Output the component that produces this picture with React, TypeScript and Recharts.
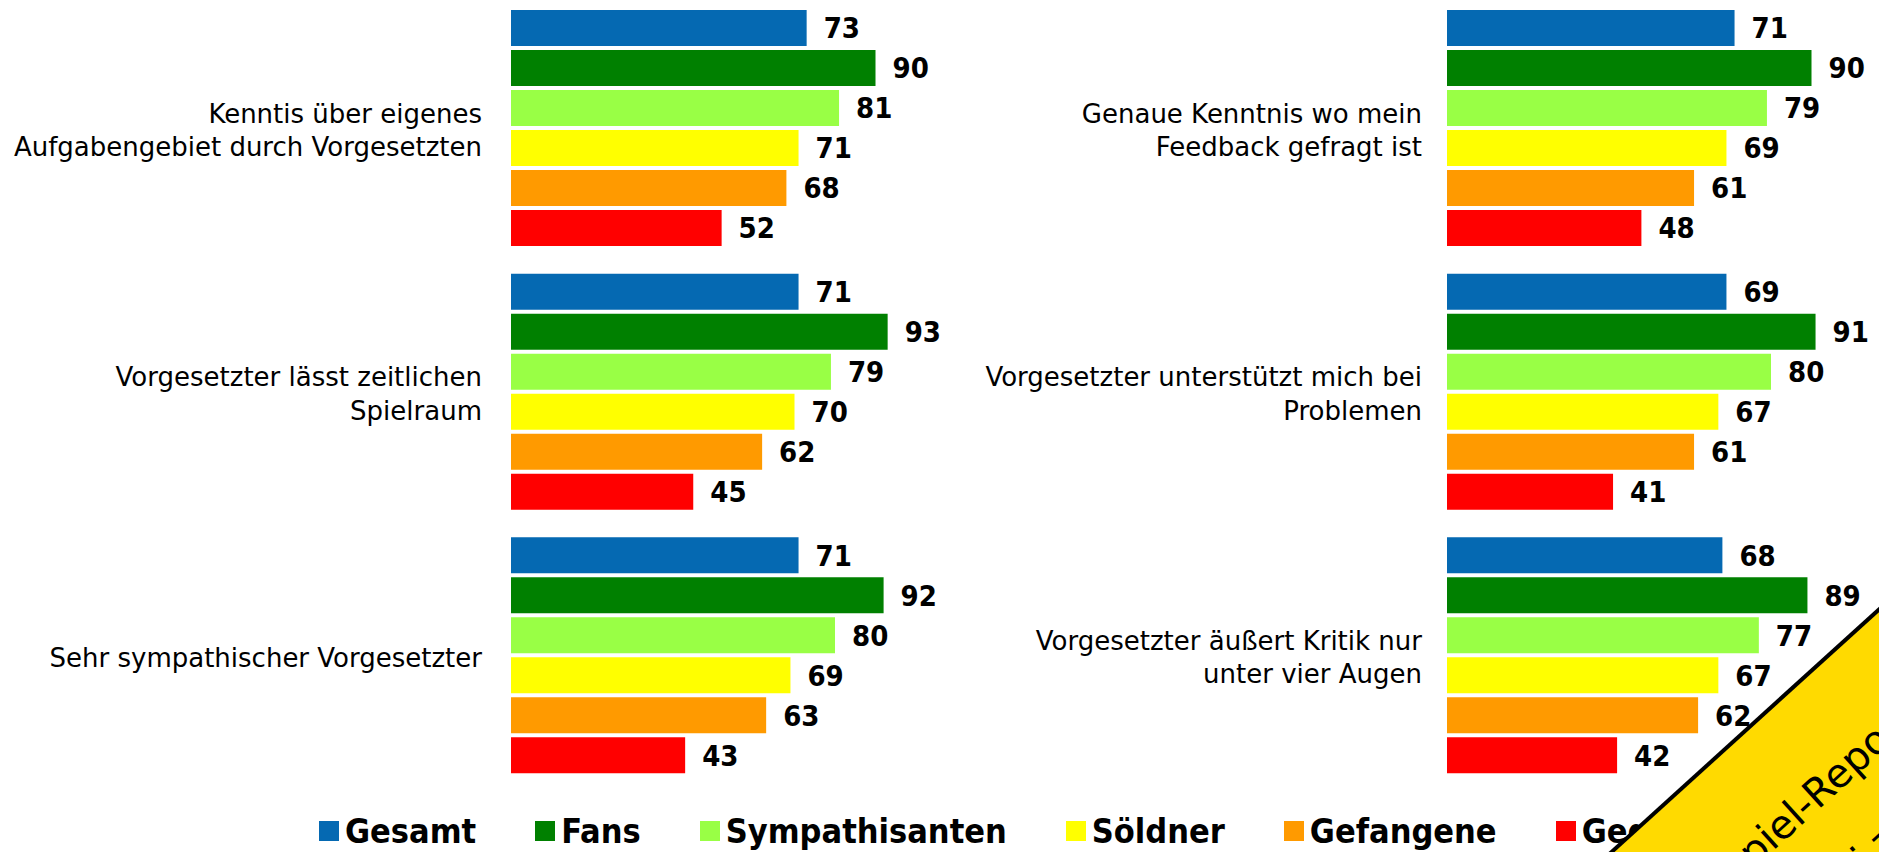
import React from "react";
import { BarChart, Bar, XAxis, YAxis, LabelList, Legend } from "recharts";

const seriesNames = ["Gesamt", "Fans", "Sympathisanten", "Söldner", "Gefangene", "Gegner"];
const seriesColors = ["#0569B2", "#008000", "#99FF45", "#FFFF00", "#FF9A00", "#FF0000"];

const leftCategories = [
  "Kenntis über eigenes\nAufgabengebiet durch Vorgesetzten",
  "Vorgesetzter lässt zeitlichen\nSpielraum",
  "Sehr sympathischer Vorgesetzter",
];
const leftGesamt = [73, 71, 71];
const leftFans = [90, 93, 92];
const leftSympathisanten = [81, 79, 80];
const leftSoeldner = [71, 70, 69];
const leftGefangene = [68, 62, 63];
const leftGegner = [52, 45, 43];

const rightCategories = [
  "Genaue Kenntnis wo mein\nFeedback gefragt ist",
  "Vorgesetzter unterstützt mich bei\nProblemen",
  "Vorgesetzter äußert Kritik nur\nunter vier Augen",
];
const rightGesamt = [71, 69, 68];
const rightFans = [90, 91, 89];
const rightSympathisanten = [79, 80, 77];
const rightSoeldner = [69, 67, 67];
const rightGefangene = [61, 61, 62];
const rightGegner = [48, 41, 42];

const buildRows = (cats: string[], cols: number[][]) =>
  cats.map((name, i) => {
    const row: Record<string, string | number> = { name };
    seriesNames.forEach((s, j) => {
      row[s] = cols[j][i];
    });
    return row;
  });

const leftData = buildRows(leftCategories, [
  leftGesamt, leftFans, leftSympathisanten, leftSoeldner, leftGefangene, leftGegner,
]);
const rightData = buildRows(rightCategories, [
  rightGesamt, rightFans, rightSympathisanten, rightSoeldner, rightGefangene, rightGegner,
]);

const BOLD_FONT = "'DejaVu Sans Condensed', 'DejaVu Sans', sans-serif";
const REG_FONT = "'DejaVu Sans', sans-serif";

const CategoryTick = (props: any) => {
  const { y, payload } = props;
  const lines = String(payload.value).split("\n");
  const lh = 33.4;
  return (
    <text x={482} y={y} textAnchor="end" fontFamily={REG_FONT} fontSize={26} fill="#000">
      {lines.map((l: string, i: number) => (
        <tspan key={i} x={482} y={y + (i - (lines.length - 1) / 2) * lh + 11.5}>
          {l}
        </tspan>
      ))}
    </text>
  );
};

const LegendContent = (props: any) => {
  const payload = [...(props.payload || [])].sort(
    (a: any, b: any) => seriesNames.indexOf(a.value) - seriesNames.indexOf(b.value)
  );
  return (
    <div style={{ display: "flex", alignItems: "center", paddingLeft: 319, height: 40 }}>
      {payload.map((p: any, i: number) => (
        <div key={i} style={{ display: "flex", alignItems: "center", marginRight: 59 }}>
          <div style={{ width: 20, height: 20, background: p.color, marginRight: 6 }} />
          <span
            style={{
              fontFamily: BOLD_FONT,
              fontStretch: "condensed",
              fontWeight: "bold",
              fontSize: 34,
              lineHeight: "40px",
              color: "#000",
              whiteSpace: "nowrap",
            }}
          >
            {p.value}
          </span>
        </div>
      ))}
    </div>
  );
};

const renderBars = () =>
  seriesNames.map((s, j) => (
    <Bar key={s} dataKey={s} name={s} fill={seriesColors[j]} isAnimationActive={false} legendType="square">
      <LabelList
        dataKey={s}
        position="right"
        offset={17}
        fill="#000"
        stroke="none"
        style={{ fontFamily: BOLD_FONT, fontStretch: "condensed", fontWeight: "bold", fontSize: 29 }}
      />
    </Bar>
  ));

export default function App() {
  return (
    <div style={{ position: "absolute", left: 0, top: 0, width: 1879, height: 852, background: "#fff", overflow: "hidden" }}>
      <div style={{ position: "absolute", left: 0, top: 0 }}>
        <BarChart
          width={980}
          height={852}
          data={leftData}
          layout="vertical"
          barSize={36}
          barGap={4}
          margin={{ top: -4, right: 64, bottom: 65, left: 0 }}
        >
          <XAxis type="number" domain={[0, 100]} hide />
          <YAxis
            type="category"
            dataKey="name"
            width={511}
            axisLine={false}
            tickLine={false}
            interval={0}
            tick={<CategoryTick />}
          />
          {renderBars()}
          <Legend
            layout="horizontal"
            verticalAlign="middle"
            align="center"
            content={<LegendContent />}
            wrapperStyle={{ position: "absolute", left: 0, top: 811, width: 1879, height: 40 }}
          />
        </BarChart>
      </div>
      <div style={{ position: "absolute", left: 940, top: 0 }}>
        <BarChart
          width={939}
          height={852}
          data={rightData}
          layout="vertical"
          barSize={36}
          barGap={4}
          margin={{ top: -4, right: 27, bottom: 65, left: 0 }}
        >
          <XAxis type="number" domain={[0, 100]} hide />
          <YAxis
            type="category"
            dataKey="name"
            width={507}
            axisLine={false}
            tickLine={false}
            interval={0}
            tick={<CategoryTick />}
          />
          {renderBars()}
        </BarChart>
      </div>
      <svg
        width={1879}
        height={852}
        style={{ position: "absolute", left: 0, top: 0, pointerEvents: "none" }}
      >
        <polygon points="1584,877 1906,585 1906,900 1584,900" fill="#FFDA00" />
        <line x1={1584} y1={877} x2={1906} y2={585} stroke="#000" strokeWidth={4} />
        <text
          transform="translate(1804,823) rotate(-42.2)"
          textAnchor="middle"
          fontFamily={REG_FONT}
          fontSize={40}
          fill="#000"
        >
          Beispiel-Report
        </text>
        <text
          transform="translate(1827,910) rotate(-42.2)"
          fontFamily={REG_FONT}
          fontSize={40}
          fill="#000"
        >
          frei zugänglich
        </text>
      </svg>
    </div>
  );
}
